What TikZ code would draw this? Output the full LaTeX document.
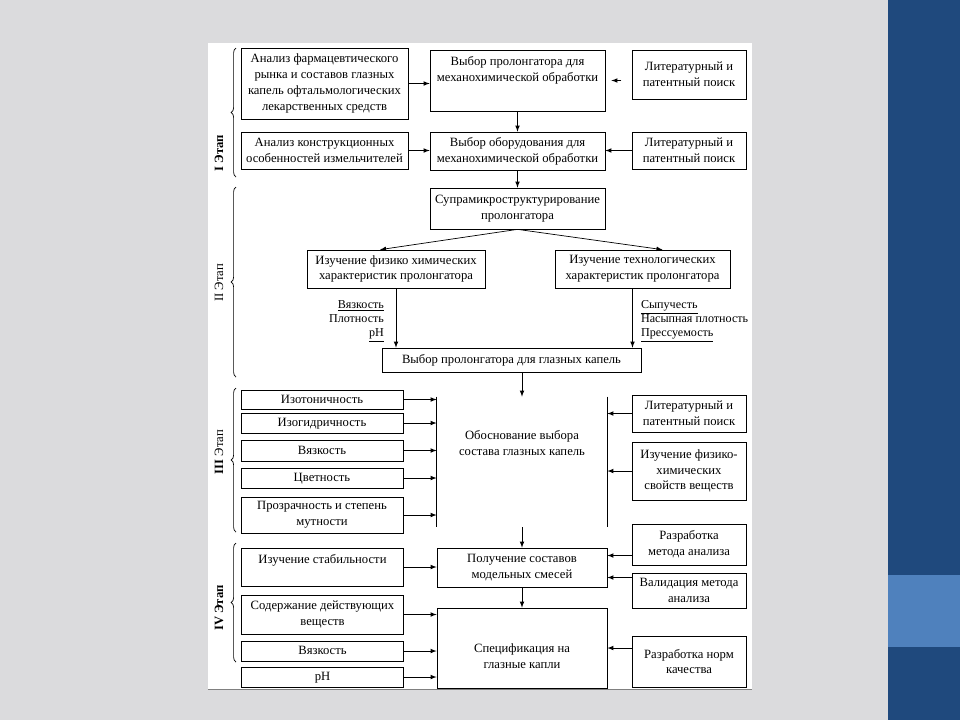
\documentclass[tikz,border=0pt]{standalone}
\usepackage{fontspec}
\setmainfont{Liberation Serif}
\usetikzlibrary{positioning,decorations.pathreplacing}

\definecolor{slidegray}{RGB}{219,219,221}
\definecolor{slideblue}{RGB}{31,73,125}
\definecolor{slidelight}{RGB}{79,129,189}

\begin{document}
\begin{tikzpicture}[x=0.25mm, y=-0.25mm, >=latex, line width=0.5pt,
    font=\fontsize{9}{11.3}\selectfont,
    box/.style={draw, rectangle, align=center, inner sep=1pt},
    oneline/.style={text height=1.6ex, text depth=0.4ex},
    leftbox/.style={box, minimum width=40.5mm},
    rightbox/.style={box, minimum width=28.5mm},
    midbox/.style={box, minimum width=43.75mm},
    props/.style={font=\fontsize{8.6}{10}\selectfont},
    stage/.style={rotate=90, inner sep=0pt},
    stagebrace/.style={decorate, decoration={brace, amplitude=1.2mm}}]

    % Slide
    \useasboundingbox (0,0) rectangle (960,720);
    \fill[slidegray] (0,0) rectangle (960,720);
    \fill[slideblue] (888,0) rectangle (960,720);
    \fill[slidelight] (888,575) rectangle (960,647);
    \fill[white] (208,43) rectangle (752,689);
    \draw[gray] (208,689) -- (752,689);

    % I Этап
    \node[box, minimum width=41.75mm, minimum height=17.75mm] (market) at (324.5,83.5) {Анализ фармацевтического\\рынка и составов глазных\\капель офтальмологических\\лекарственных средств};
    \node[midbox, minimum height=15.25mm] (prolong) at (517.5,80.5) {};
    \node[below=0.5mm of prolong.north, align=center] (prolongtxt) {Выбор пролонгатора для\\механохимической обработки};
    \node[rightbox, minimum height=12.25mm] (lit1) at (689,74.5) {Литературный и\\патентный поиск};
    \node[box, minimum width=41.75mm, minimum height=9.25mm] (mills) at (324.5,150.5) {Анализ конструкционных\\особенностей измельчителей};
    \node[midbox, minimum height=9.5mm] (equip) at (517.5,151) {Выбор оборудования для\\механохимической обработки};
    \node[rightbox, minimum height=9.25mm] (lit2) at (689,150.5) {Литературный и\\патентный поиск};

    \draw[->] (market.east) -- (market.east -| prolong.west);
    \draw[->] ([xshift=4mm]prolong.east) -- ([xshift=1.5mm]prolong.east);
    \draw[->] (mills.east) -- (mills.east -| equip.west);
    \draw[->] (lit2.west) -- (lit2.west -| equip.east);
    \draw[->] (prolong.south) -- (equip.north);

    % II Этап
    \node[midbox, minimum height=10.25mm] (supra) at (517.5,208.5) {Супрамикроструктурирование\\пролонгатора};
    \node[box, minimum width=44.5mm, minimum height=9.5mm] (physchem) at (396,269) {Изучение физико химических\\характеристик пролонгатора};
    \node[midbox, minimum height=9.5mm] (techno) at (642.5,269) {Изучение технологических\\характеристик пролонгатора};
    \node[box, oneline, minimum width=64.75mm, minimum height=6mm] (choice) at (511.5,360) {Выбор пролонгатора для глазных капель};
    \node[props, anchor=east, align=right] (physprops) at (389,321) {\underline{Вязкость}\\Плотность\\\underline{pH}};
    \node[props, anchor=west, align=left] (techprops) at (636,321) {\underline{Сыпучесть}\\Насыпная плотность\\\underline{Прессуемость}};

    \draw[->] (equip.south) -- (supra.north);
    \draw[->] (supra.south) -- ([xshift=-4mm]physchem.north);
    \draw[->] (supra.south) -- ([xshift=5mm]techno.north);
    \draw[->] (physchem.south) -- (physchem.south |- choice.north);
    \draw[->] ([xshift=-2.5mm]techno.south) -- ([xshift=-2.5mm]techno.south |- choice.north);

    % III Этап
    \node[minimum width=42.5mm, minimum height=32.5mm] (basis) at (522,462) {};
    \node[align=center] (basistxt) at ([yshift=4.75mm]basis.center) {Обоснование выбора\\состава глазных капель};
    \draw (basis.north west) -- (basis.south west);
    \draw (basis.north east) -- (basis.south east);
    \draw[->] (choice.south -| basis.north) -- (basis.north);

    \node[leftbox, oneline, minimum height=4.75mm] (isoton) at (322,399.5) {Изотоничность};
    \node[leftbox, oneline, minimum height=5mm] (isohyd) at (322,423) {Изогидричность};
    \node[leftbox, oneline, minimum height=5.25mm] (visc) at (322,450.5) {Вязкость};
    \node[leftbox, oneline, minimum height=5mm] (colour) at (322,478) {Цветность};
    \node[leftbox, minimum height=9mm] (transp) at (322,515) {Прозрачность и степень\\мутности};
    \foreach \n in {isoton,isohyd,visc,colour,transp}
        \draw[->] (\n.east) -- (\n.east -| basis.west);

    \node[rightbox, minimum height=9.25mm] (lit3) at (689,413.5) {Литературный и\\патентный поиск};
    \node[rightbox, minimum height=14.5mm] (substances) at (689,471) {Изучение физико-\\химических\\свойств веществ};
    \draw[->] (lit3.west) -- (lit3.west -| basis.east);
    \draw[->] (substances.west) -- (substances.west -| basis.east);

    % IV Этап
    \node[box, minimum width=42.5mm, minimum height=9.75mm] (mixes) at (522,567.5) {Получение составов\\модельных смесей};
    \node[box, minimum width=42.5mm, minimum height=20mm] (spec) at (522,648) {};
    \node[align=center] (spectxt) at ([yshift=-2mm]spec.center) {Спецификация на\\глазные капли};
    \draw[->] (basis.south) -- (mixes.north);
    \draw[->] (mixes.south) -- (spec.north);

    \node[leftbox, minimum height=9.5mm] (stab) at (322.5,567) {};
    \node[below=0.5mm of stab.north] (stabtxt) {Изучение стабильности};
    \node[leftbox, minimum height=9.75mm] (content) at (322.5,614.5) {Содержание действующих\\веществ};
    \node[leftbox, oneline, minimum height=5mm] (visc4) at (322.5,651) {Вязкость};
    \node[leftbox, oneline, minimum height=5mm] (ph) at (322.5,677) {pH};
    \draw[->] (stab.east) -- (stab.east -| mixes.west);
    \foreach \n in {content,visc4,ph}
        \draw[->] (\n.east) -- (\n.east -| spec.west);

    \node[rightbox, minimum height=10.25mm] (method) at (689,544.5) {Разработка\\метода анализа};
    \node[rightbox, minimum height=8.75mm] (valid) at (689,590.5) {Валидация метода\\анализа};
    \node[rightbox, minimum height=12.75mm] (norms) at (689,661.5) {Разработка норм\\качества};
    \coordinate (mixin1) at ([yshift=3mm]mixes.east);
    \coordinate (mixin2) at ([yshift=-2.5mm]mixes.east);
    \draw[->] (method.west |- mixin1) -- (mixin1);
    \draw[->] (valid.west |- mixin2) -- (mixin2);
    \draw[->] (norms.west |- spec.east) -- (spec.east);

    % Этапы
    \draw[stagebrace] (236,177) -- (236,48);
    \draw[stagebrace] (236,377) -- (236,187);
    \draw[stagebrace] (236,532) -- (236,388);
    \draw[stagebrace] (236,662) -- (236,543);
    \node[stage] (stage1) at (219,153) {\textbf{I Этап}};
    \node[stage] (stage2) at (219,283) {II Этап};
    \node[stage] (stage3) at (219,452) {\textbf{III} Этап};
    \node[stage] (stage4) at (219,608) {\textbf{IV Этап}};

\end{tikzpicture}
\end{document}
